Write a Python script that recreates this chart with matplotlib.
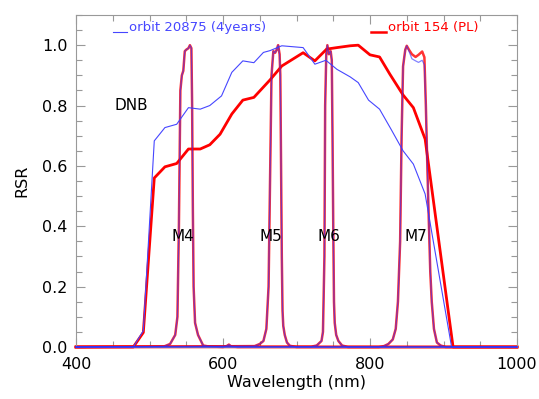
import matplotlib
matplotlib.use("Agg")
import matplotlib.pyplot as plt
from matplotlib.ticker import MultipleLocator

plt.rcParams['font.family'] = ['DejaVu Sans']

# ---- DNB band (blue: orbit 20875, red: orbit 154) ----
dnb_blue_wl = [400, 478, 491.6, 506.5, 521, 537, 553, 569, 582, 598, 612, 627, 642, 655,
               664, 680, 709, 725, 740, 755, 773, 784, 798, 813, 829, 845, 859, 875, 911, 1000]
dnb_blue_v = [0, 0, 0.054, 0.683, 0.727, 0.738, 0.793, 0.788, 0.80, 0.832, 0.91, 0.948, 0.942, 0.976,
              0.982, 0.998, 0.992, 0.937, 0.950, 0.92, 0.895, 0.876, 0.818, 0.788, 0.72, 0.65, 0.606, 0.507, 0, 0]

dnb_red_wl = [400, 478, 491.6, 506.5, 521, 537, 553, 569, 582, 596, 612, 627, 642, 664,
              680, 709, 725, 741, 755, 773, 784, 800, 813, 827, 845, 859, 875, 913, 1000]
dnb_red_v = [0, 0, 0.048, 0.56, 0.597, 0.608, 0.656, 0.656, 0.670, 0.705, 0.772, 0.818, 0.827, 0.885,
             0.931, 0.975, 0.948, 0.987, 0.992, 0.998, 1.0, 0.968, 0.961, 0.904, 0.835, 0.793, 0.689, 0, 0]

# ---- M bands ----
m4_wl = [400, 520, 528, 535, 538, 540, 542, 544, 546, 548, 550, 553, 555, 557, 558, 559, 560,
         562, 566, 573, 580, 600, 605, 608, 611, 620, 1000]
m4_v = [0, 0.002, 0.01, 0.04, 0.1, 0.4, 0.85, 0.9, 0.915, 0.98, 0.985, 0.99, 1.0, 0.99, 0.8, 0.45,
        0.2, 0.08, 0.04, 0.005, 0.002, 0, 0.003, 0.008, 0.002, 0, 0]

m5_wl = [400, 643, 650, 655, 659, 662, 664, 666, 668.5, 671, 673, 675, 677, 678, 679, 680, 681,
         682, 684, 687, 691, 700, 1000]
m5_v = [0, 0.003, 0.01, 0.02, 0.06, 0.2, 0.55, 0.9, 0.98, 0.975, 0.985, 1.0, 0.97, 0.9, 0.6, 0.3,
        0.12, 0.07, 0.04, 0.015, 0.004, 0, 0]

m6_wl = [400, 720, 727.5, 734, 736, 738, 739, 740.5, 742, 744, 746.5, 748, 749, 750, 751, 752,
         754, 757, 762, 770, 1000]
m6_v = [0, 0.001, 0.005, 0.02, 0.05, 0.3, 0.8, 0.97, 1.0, 0.97, 0.98, 0.95, 0.7, 0.4, 0.15, 0.08,
        0.04, 0.02, 0.005, 0, 0]

m7_wl = [400, 812, 819, 825, 831, 835, 838, 841, 843, 845, 848, 850, 853, 857, 862, 866, 871,
         874, 876, 878, 880, 882, 884, 887, 891, 896, 903, 1000]
m7_red_v = [0, 0, 0.003, 0.01, 0.025, 0.06, 0.15, 0.35, 0.7, 0.93, 0.985, 0.998, 0.985, 0.97,
            0.961, 0.968, 0.979, 0.96, 0.8, 0.6, 0.42, 0.25, 0.15, 0.06, 0.015, 0.005, 0, 0]
m7_blue_v = [0, 0, 0.003, 0.01, 0.025, 0.06, 0.15, 0.35, 0.7, 0.93, 0.985, 0.998, 0.98, 0.955,
             0.948, 0.943, 0.95, 0.935, 0.8, 0.6, 0.42, 0.25, 0.15, 0.06, 0.015, 0.005, 0, 0]

band_labels = ["M4", "M5", "M6", "M7"]
band_label_x = [546, 665, 744, 862]
band_label_y = 0.365

legend_blue = "orbit 20875 (4years)"
legend_red = "orbit 154 (PL)"

BLUE = '#4646ff'
RED = '#ff0000'

fig = plt.figure(figsize=(5.39, 3.99), dpi=100)
ax = fig.add_axes([76 / 539, 1 - 347 / 399, (517 - 76) / 539, (347 - 15) / 399])

# red (thick) under, blue (thin) over
for wl, v in [(m4_wl, m4_v), (m5_wl, m5_v), (m6_wl, m6_v), (m7_wl, m7_red_v)]:
    ax.plot(wl, v, color=RED, lw=1.8, clip_on=False, zorder=2, alpha=0.8)
ax.plot(dnb_red_wl, dnb_red_v, color=RED, lw=2.0, clip_on=False, zorder=2)
ax.plot(dnb_blue_wl, dnb_blue_v, color=BLUE, lw=0.8, clip_on=False, zorder=3)
for wl, v in [(m4_wl, m4_v), (m5_wl, m5_v), (m6_wl, m6_v), (m7_wl, m7_blue_v)]:
    ax.plot(wl, v, color='#3030ff', lw=0.9, clip_on=False, zorder=3, alpha=0.6)

ax.set_xlim(400, 1000)
ax.set_ylim(0, 1.1)

ax.xaxis.set_minor_locator(MultipleLocator(50))
ax.yaxis.set_minor_locator(MultipleLocator(0.05))
ax.set_xticks([400, 600, 800, 1000])
ax.set_xticklabels(["400", "600", "800", "1000"])
ax.set_yticks([0, 0.2, 0.4, 0.6, 0.8, 1.0])
ax.set_yticklabels(["0.0", "0.2", "0.4", "0.6", "0.8", "1.0"])

ax.tick_params(which='both', direction='in', top=True, right=True, color='#999999',
               labelsize=11.5, width=0.8)
ax.tick_params(which='major', length=6.5)
ax.tick_params(which='minor', length=4)
ax.tick_params(axis='x', pad=7)
ax.tick_params(axis='y', pad=6)
for s in ax.spines.values():
    s.set_color('#999999')
    s.set_linewidth(0.8)

ax.set_xlabel("Wavelength (nm)", fontsize=11.5, labelpad=2)
ax.set_ylabel("RSR", fontsize=11.5, labelpad=9)

ax.text(475, 0.80, "DNB", fontsize=11, ha='center', va='center')
for lab, x in zip(band_labels, band_label_x):
    ax.text(x, band_label_y, lab, fontsize=11, ha='center', va='center')

# legend-like annotations
ax.plot([451, 470], [1.045, 1.045], color=BLUE, lw=0.8)
ax.text(472, 1.058, legend_blue, color=BLUE, fontsize=9.5, ha='left', va='center')
ax.plot([802, 822], [1.045, 1.045], color=RED, lw=1.8)
ax.text(824, 1.058, legend_red, color=RED, fontsize=9.5, ha='left', va='center')

fig.savefig("out.png", dpi=100)
